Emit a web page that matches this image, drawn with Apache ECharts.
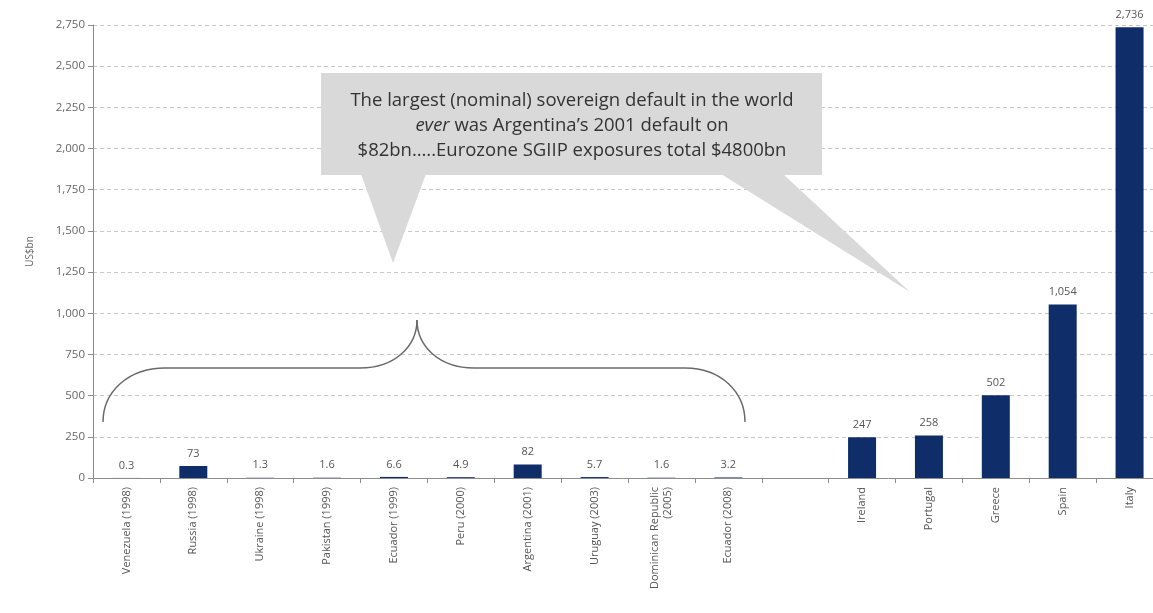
<!DOCTYPE html>
<html>
<head>
<meta charset="utf-8">
<script src="https://cdn.jsdelivr.net/npm/echarts@6/dist/echarts.min.js"></script>
<style>
html,body{margin:0;padding:0;background:#fff;}
#chart{width:1153px;height:613px;}
</style>
</head>
<body>
<div id="chart"></div>
<script>
// ---- data ----
const categories = [
  'Venezuela (1998)', 'Russia (1998)', 'Ukraine (1998)', 'Pakistan (1999)',
  'Ecuador (1999)', 'Peru (2000)', 'Argentina (2001)', 'Uruguay (2003)',
  'Dominican Republic\n(2005)', 'Ecuador (2008)', '',
  'Ireland', 'Portugal', 'Greece', 'Spain', 'Italy'
];
const values = [0.3, 73, 1.3, 1.6, 6.6, 4.9, 82, 5.7, 1.6, 3.2, null, 247, 258, 502, 1054, 2736];
const yTicks = { min: 0, max: 2750, interval: 250 };
const yAxisName = 'US$bn';
const calloutLines = [
  'The largest (nominal) sovereign default in the world',
  '{i|ever} was Argentina\u2019s 2001 default on',
  '$82bn\u2026..Eurozone SGIIP exposures total $4800bn'
];

const FONT = '"Open Sans", "Noto Sans", sans-serif';
const chart = echarts.init(document.getElementById('chart'), null, { renderer: 'canvas' });

const fmt = v => v < 10 ? v.toFixed(1) : Math.round(v).toLocaleString('en-US');

const braceStyle = { fill: 'none', stroke: '#6a6a6a', lineWidth: 1.5 };
const curve = (x1, y1, c1x, c1y, c2x, c2y, x2, y2) => ({
  type: 'bezierCurve', z: 10,
  shape: { x1: x1, y1: y1, cpx1: c1x, cpy1: c1y, cpx2: c2x, cpy2: c2y, x2: x2, y2: y2 },
  style: braceStyle
});
const seg = (x1, y1, x2, y2) => ({ type: 'line', z: 10, shape: { x1: x1, y1: y1, x2: x2, y2: y2 }, style: braceStyle });

const option = {
  animation: false,
  backgroundColor: '#ffffff',
  textStyle: { fontFamily: FONT },
  grid: { left: 93, top: 25, width: 1070, height: 453, outerBoundsMode: 'none', containLabel: false },
  xAxis: {
    type: 'category',
    data: categories,
    axisLine: { lineStyle: { color: '#8c8c8c', width: 1 } },
    axisTick: { show: true, interval: 0, length: 5, lineStyle: { color: '#8c8c8c' } },
    axisLabel: { rotate: 90, interval: 0, color: '#555', fontSize: 11, margin: 9, fontFamily: FONT, lineHeight: 13 }
  },
  yAxis: {
    type: 'value',
    min: yTicks.min, max: yTicks.max, interval: yTicks.interval,
    name: yAxisName, nameLocation: 'middle', nameGap: 58,
    nameTextStyle: { color: '#666', fontSize: 10, fontFamily: FONT },
    axisLine: { show: true, lineStyle: { color: '#8c8c8c' } },
    axisTick: { show: true, length: 5, lineStyle: { color: '#8c8c8c' } },
    axisLabel: { color: '#666', fontSize: 11.5, margin: 8, fontFamily: FONT,
      formatter: v => v.toLocaleString('en-US') },
    splitLine: { show: true, lineStyle: { type: [4, 3], color: '#c9c9c9', width: 1 } }
  },
  series: [{
    type: 'bar',
    data: values,
    barWidth: 28,
    itemStyle: { color: '#0f2d69' },
    label: {
      show: true, position: 'top', distance: 7, color: '#555', fontSize: 11, fontFamily: FONT,
      formatter: p => (p.value == null ? '' : fmt(p.value))
    }
  }],
  graphic: [
    // callout pointers
    { type: 'polygon', z: 10, shape: { points: [[361, 174], [426, 174], [393, 263]] }, style: { fill: '#d9d9d9' } },
    { type: 'polygon', z: 10, shape: { points: [[721, 174], [783, 174], [910, 292]] }, style: { fill: '#d9d9d9' } },
    // callout box
    { type: 'rect', z: 10, shape: { x: 321, y: 73, width: 501, height: 102 }, style: { fill: '#d9d9d9' } },
    { type: 'text', z: 11, x: 572, y: 126,
      style: {
        text: calloutLines.join('\n'),
        align: 'center', verticalAlign: 'middle',
        fill: '#333', fontSize: 18.5, fontFamily: FONT, lineHeight: 25,
        rich: { i: { fontStyle: 'italic', fontSize: 18.5, fontFamily: FONT, fill: '#333', lineHeight: 25 } }
      }
    },
    // curly brace
    curve(103, 422, 103, 392, 128, 368, 165, 368),
    seg(165, 368, 360, 368),
    curve(360, 368, 395, 368, 417, 346, 417, 320),
    curve(417, 320, 417, 346, 439, 368, 474, 368),
    seg(474, 368, 685, 368),
    curve(685, 368, 721, 368, 745, 392, 745, 422)
  ]
};
chart.setOption(option);
</script>
</body>
</html>
